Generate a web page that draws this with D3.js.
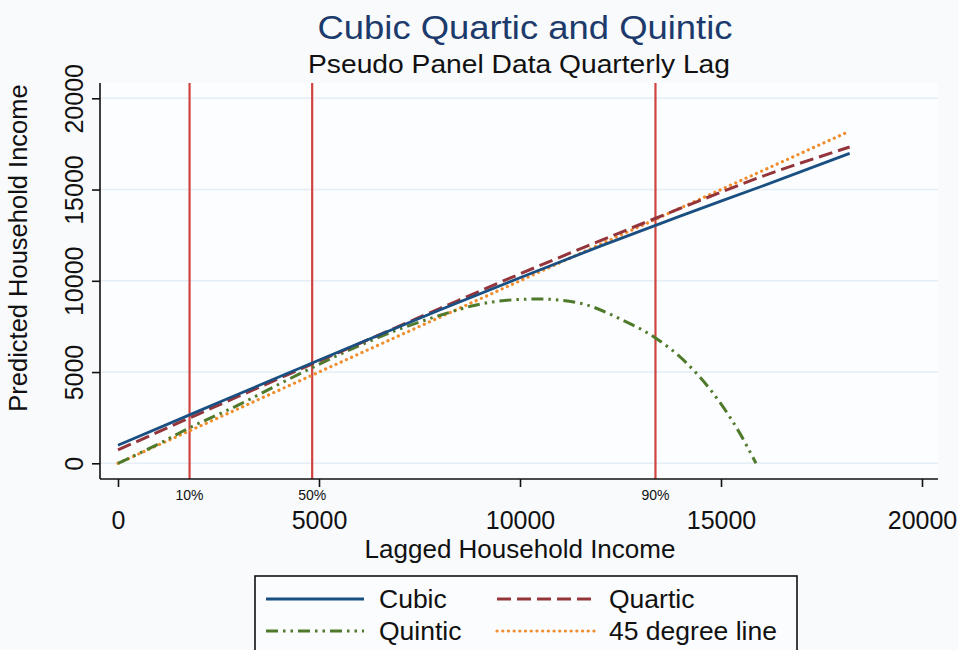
<!DOCTYPE html>
<html>
<head>
<meta charset="utf-8">
<script src="https://cdn.jsdelivr.net/npm/d3@7"></script>
<style>
  html, body { margin: 0; padding: 0; background: #f8fafc; }
  svg { display: block; font-family: "Liberation Sans", Arial, sans-serif; }
</style>
</head>
<body>
<svg id="chart" width="958" height="650"></svg>
<script>
// ---- Data ----
const title = "Cubic Quartic and Quintic";
const subtitle = "Pseudo Panel Data Quarterly Lag";
const xTicks = [0, 5000, 10000, 15000, 20000];
const yTicks = [0, 5000, 10000, 15000, 20000];
const percentileLabels = ["10%", "50%", "90%"];
const percentileValues = [1780, 4830, 13370];

const cubicX = [0, 2000, 4000, 6000, 8000, 10000, 12000, 14000, 16000, 18200];
const cubicY = [990, 2860, 4730, 6580, 8400, 10170, 11900, 13560, 15170, 16980];

const quarticX = [0, 2000, 4000, 6000, 8000, 10000, 12000, 14000, 16000, 18200];
const quarticY = [730, 2700, 4640, 6560, 8480, 10380, 12200, 13980, 15700, 17330];

const quinticX = [0, 1000, 1780, 3000, 4000, 4830, 6000, 7000, 8000, 9000, 10000, 10500, 11500, 12500, 13370, 14150, 15000, 15470, 15870];
const quinticY = [0, 1050, 1950, 3200, 4330, 5240, 6450, 7350, 8100, 8720, 8980, 9000, 8770, 7900, 6870, 5480, 3250, 1640, 0];

const degX = [0, 18200];
const degY = [0, 18200];

const seriesNames = ["Cubic", "Quartic", "Quintic", "45 degree line"];

// ---- Layout ----
const svg = d3.select("#chart");
const W = 958, H = 650;
const plot = { left: 100, right: 938, top: 83, bottom: 479 };

const x = d3.scaleLinear().domain([0, 20000]).range([118, 922]);
const y = d3.scaleLinear().domain([0, 20000]).range([463.3, 98.3]);

svg.append("rect").attr("x", 0).attr("y", 0).attr("width", W).attr("height", H).attr("fill", "#f8fafc");
svg.append("rect").attr("x", plot.left).attr("y", plot.top)
  .attr("width", plot.right - plot.left).attr("height", plot.bottom - plot.top)
  .attr("fill", "#fcfdfe");

// gridlines
svg.append("g").selectAll("line").data(yTicks).join("line")
  .attr("x1", plot.left).attr("x2", plot.right)
  .attr("y1", d => y(d)).attr("y2", d => y(d))
  .attr("stroke", "#e4eef4").attr("stroke-width", 1.5);

// percentile vertical lines
svg.append("g").selectAll("line").data(percentileValues).join("line")
  .attr("x1", d => x(d)).attr("x2", d => x(d))
  .attr("y1", plot.top).attr("y2", plot.bottom)
  .attr("stroke", "#d0443f").attr("stroke-width", 2.2);

// series
const styles = {
  "Cubic":   { color: "#1a4f82", dash: null, width: 2.8, cap: "butt" },
  "Quartic": { color: "#94353b", dash: "14,6", width: 3, cap: "butt" },
  "Quintic": { color: "#4f7a2c", dash: "12,5,2.5,5,2.5,5", width: 3, cap: "butt" },
  "45 degree line": { color: "#f08d2c", dash: "0.1,5.6", width: 3.2, cap: "round" }
};
const seriesData = [
  { name: "45 degree line", xs: degX, ys: degY },
  { name: "Quintic", xs: quinticX, ys: quinticY },
  { name: "Quartic", xs: quarticX, ys: quarticY },
  { name: "Cubic", xs: cubicX, ys: cubicY }
];
const line = d3.line().x(d => x(d[0])).y(d => y(d[1])).curve(d3.curveMonotoneX);
seriesData.forEach(s => {
  const st = styles[s.name];
  svg.append("path")
    .datum(s.xs.map((v, i) => [v, s.ys[i]]))
    .attr("d", line)
    .attr("fill", "none")
    .attr("stroke", st.color)
    .attr("stroke-width", st.width)
    .attr("stroke-linecap", st.cap)
    .attr("stroke-dasharray", st.dash);
});

// axes
const xAxis = d3.axisBottom(x).tickValues(xTicks).tickSize(8).tickPadding(24).tickFormat(d3.format("d"));
const gx = svg.append("g").attr("transform", `translate(0,${plot.bottom})`).call(xAxis);
gx.select(".domain").attr("d", `M${plot.left},0H${plot.right}`).attr("stroke", "#111").attr("stroke-width", 1.6);
gx.selectAll(".tick line").attr("stroke", "#111").attr("stroke-width", 1.6);
gx.selectAll(".tick text").attr("font-size", 25).attr("fill", "#111").attr("font-family", "Liberation Sans, Arial, sans-serif");

const yAxis = d3.axisLeft(y).tickValues(yTicks).tickSize(8).tickPadding(0).tickFormat(d3.format("d"));
const gy = svg.append("g").attr("transform", `translate(${plot.left},0)`).call(yAxis);
gy.select(".domain").attr("d", `M0,${plot.top}V${plot.bottom}`).attr("stroke", "#111").attr("stroke-width", 1.6);
gy.selectAll(".tick line").attr("stroke", "#111").attr("stroke-width", 1.6);
gy.selectAll(".tick text")
  .attr("font-size", 25).attr("fill", "#111")
  .attr("font-family", "Liberation Sans, Arial, sans-serif")
  .attr("x", null).attr("dy", null)
  .attr("text-anchor", "middle")
  .attr("transform", "translate(-17,0) rotate(-90)");

// percentile labels
svg.append("g").selectAll("text").data(percentileValues).join("text")
  .attr("x", d => x(d)).attr("y", 500)
  .attr("text-anchor", "middle")
  .attr("font-size", 14).attr("fill", "#111")
  .text((d, i) => percentileLabels[i]);

// titles
svg.append("text").attr("x", 525).attr("y", 39).attr("text-anchor", "middle")
  .attr("font-size", 33).attr("fill", "#1c3a6b")
  .attr("textLength", 415).attr("lengthAdjust", "spacingAndGlyphs")
  .text(title);
svg.append("text").attr("x", 519).attr("y", 73).attr("text-anchor", "middle")
  .attr("font-size", 25).attr("fill", "#111")
  .attr("textLength", 422).attr("lengthAdjust", "spacingAndGlyphs")
  .text(subtitle);

svg.append("text").attr("x", 520).attr("y", 558).attr("text-anchor", "middle")
  .attr("font-size", 26).attr("fill", "#111")
  .text("Lagged Household Income");
svg.append("text").attr("transform", "translate(27,248) rotate(-90)").attr("text-anchor", "middle")
  .attr("font-size", 25.5).attr("fill", "#111")
  .text("Predicted Household Income");

// legend
const lg = svg.append("g");
lg.append("rect").attr("x", 255).attr("y", 576).attr("width", 542).attr("height", 90)
  .attr("fill", "#fbfcfe").attr("stroke", "#111").attr("stroke-width", 1.6);
const legendPos = [
  { name: "Cubic", x1: 266, x2: 364, tx: 379, y: 599 },
  { name: "Quartic", x1: 497, x2: 594, tx: 609, y: 599 },
  { name: "Quintic", x1: 266, x2: 364, tx: 379, y: 631 },
  { name: "45 degree line", x1: 497, x2: 594, tx: 609, y: 631 }
];
legendPos.forEach(p => {
  const st = styles[p.name];
  lg.append("line").attr("x1", p.x1).attr("x2", p.x2).attr("y1", p.y).attr("y2", p.y)
    .attr("stroke", st.color).attr("stroke-width", st.width)
    .attr("stroke-linecap", st.cap).attr("stroke-dasharray", st.dash);
  lg.append("text").attr("x", p.tx).attr("y", p.y + 9).attr("font-size", 26.5).attr("fill", "#111").text(p.name);
});
</script>
</body>
</html>
